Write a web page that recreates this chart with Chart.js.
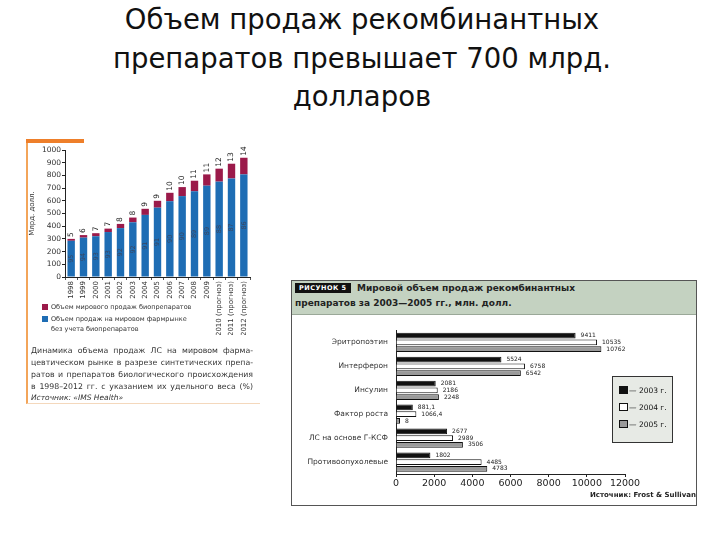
<!DOCTYPE html>
<html>
<head>
<meta charset="utf-8">
<script src="https://cdn.jsdelivr.net/npm/chart.js@4/dist/chart.umd.min.js"></script>
<style>
  body { margin: 0; width: 720px; height: 540px; background: #fff; position: relative; overflow: hidden; font-family: "DejaVu Sans", sans-serif; }
  .abs { position: absolute; }
  #title { left: 0; top: 0; width: 724px; text-align: center; font-size: 27.5px; line-height: 38.5px; color: #111; }
  #leftPanel { left: 26px; top: 139px; width: 232px; height: 264px; border-left: 2px solid #f3a55a; border-bottom: 1px solid #f4d8bc; }
  #orangeBar { left: 26px; top: 139px; width: 58px; height: 4px; background: #ee7f2a; }
  .leg { font-size: 6.5px; color: #333; line-height: 10px; }
  .sw { display: inline-block; width: 6px; height: 6px; margin-right: 3px; vertical-align: -1px; }
  .cap { left: 31px; width: 222px; font-size: 7.8px; color: #333; text-align: justify; text-align-last: justify; line-height: 12px; white-space: nowrap; }
  #rightPanel { left: 291px; top: 280px; width: 404px; height: 224px; border: 1px solid #555; }
  #rightHead { left: 292px; top: 281px; width: 404px; height: 33px; background: #c4d2c1; border-bottom: 1px solid #9aa898; }
  #fig { left: 295px; top: 283px; background: #111; color: #fff; font-size: 6.5px; font-weight: bold; padding: 1px 4px; letter-spacing: 0.5px; }
  .head { font-size: 9px; font-weight: bold; color: #222; }
  #legendR { left: 612px; top: 376px; width: 59px; height: 65px; background: #e7eae5; border: 1px solid #333; font-size: 7.5px; color: #111; }
  #legendR div { position: absolute; left: 6px; }
  #legendR span.box { display: inline-block; width: 7px; height: 6px; border: 1px solid #111; vertical-align: -1px; margin-right: 1px; }
</style>
</head>
<body>
<div id="title" class="abs">Объем продаж рекомбинантных<br>препаратов превышает 700 млрд.<br>долларов</div>

<div id="leftPanel" class="abs"></div>
<div id="orangeBar" class="abs"></div>
<canvas id="salesChart" class="abs" style="left:28px;top:140px" width="226" height="195"></canvas>
<div class="abs leg" style="left:42px;top:302px"><span class="sw" style="background:#9b1a4a"></span>Объем мирового продаж биопрепаратов</div>
<div class="abs leg" style="left:42px;top:314px"><span class="sw" style="background:#1e6db4"></span>Объем продаж на мировом фармрынке<br><span style="padding-left:9px">без учета биопрепаратов</span></div>
<div class="abs cap" style="top:345px">Динамика объема продаж ЛС на мировом фарма-</div>
<div class="abs cap" style="top:357px">цевтическом рынке в разрезе синтетических препа-</div>
<div class="abs cap" style="top:369px">ратов и препаратов биологического происхождения</div>
<div class="abs cap" style="top:381px">в 1998–2012 гг. с указанием их удельного веса (%)</div>
<div class="abs" style="left:31px;top:393px;font-size:7.5px;font-style:italic;color:#333">Источник: «IMS Health»</div>

<div id="rightPanel" class="abs"></div>
<div id="rightHead" class="abs"></div>
<div id="fig" class="abs">РИСУНОК 5</div>
<div class="abs head" style="left:357px;top:283px">Мировой объем продаж рекомбинантных</div>
<div class="abs head" style="left:295px;top:298px">препаратов за 2003—2005 гг., млн. долл.</div>
<canvas id="recombChart" class="abs" style="left:293px;top:318px" width="400" height="172"></canvas>
<div id="legendR" class="abs">
  <div style="top:9px"><span class="box" style="background:#111"></span>— 2003 г.</div>
  <div style="top:26px"><span class="box" style="background:#fff"></span>— 2004 г.</div>
  <div style="top:43px"><span class="box" style="background:#9a9a9a"></span>— 2005 г.</div>
</div>
<div class="abs" style="left:590px;top:491px;font-size:7px;font-weight:bold;color:#222">Источник: Frost &amp; Sullivan</div>

<script>
// left chart: world pharma sales, bn USD
const years = ['1998', '1999', '2000', '2001', '2002', '2003', '2004', '2005', '2006', '2007', '2008', '2009', '2010 (прогноз)', '2011 (прогноз)', '2012 (прогноз)'];
const synthSales = [285, 310, 321, 354, 385, 431, 489, 546, 597, 637, 675, 719, 751, 776, 808];
const bioSales = [15, 20, 24, 27, 33, 37, 48, 54, 66, 71, 83, 89, 102, 116, 131];
const synthShare = [95, 94, 93, 93, 92, 92, 91, 91, 90, 90, 89, 89, 88, 87, 86];
const bioShare = [5, 6, 7, 7, 8, 8, 9, 9, 10, 10, 11, 11, 12, 13, 14];
const salesTicks = [0, 100, 200, 300, 400, 500, 600, 700, 800, 900, 1000];

// right chart: recombinant drugs, mln USD
const drugs = ['Эритропоэтин', 'Интерферон', 'Инсулин', 'Фактор роста', 'ЛС на основе Г-КСФ', 'Противоопухолевые'];
const sales2003 = [9411, 5524, 2081, 881.1, 2677, 1802];
const sales2004 = [10535, 6758, 2186, 1066.4, 2989, 4485];
const sales2005 = [10762, 6542, 2248, 8, 3506, 4783];

const font = 'DejaVu Sans';

const shareLabels = {
  id: 'shareLabels',
  afterDatasetsDraw(chart) {
    const ctx = chart.ctx;
    const synMeta = chart.getDatasetMeta(0);
    const bioMeta = chart.getDatasetMeta(1);
    ctx.save();
    ctx.textBaseline = 'middle';
    synMeta.data.forEach((bar, i) => {
      ctx.save();
      ctx.font = '6.5px "' + font + '"';
      ctx.fillStyle = '#3a4660';
      ctx.translate(bar.x, (bar.y + bar.base) / 2);
      ctx.rotate(-Math.PI / 2);
      ctx.textAlign = 'center';
      ctx.fillText(synthShare[i], 0, 0);
      ctx.restore();

      const top = bioMeta.data[i];
      ctx.save();
      ctx.font = '7.5px "' + font + '"';
      ctx.fillStyle = '#222';
      ctx.translate(top.x, top.y - 2);
      ctx.rotate(-Math.PI / 2);
      ctx.textAlign = 'left';
      ctx.fillText(bioShare[i], 0, 0);
      ctx.restore();
    });
    ctx.restore();
  }
};

new Chart(document.getElementById('salesChart'), {
  type: 'bar',
  data: {
    labels: years,
    datasets: [
      { label: 'Объем продаж на мировом фармрынке без учета биопрепаратов', data: synthSales, backgroundColor: '#1e6db4' },
      { label: 'Объем мирового продаж биопрепаратов', data: bioSales, backgroundColor: '#9b1a4a' }
    ]
  },
  options: {
    responsive: false,
    animation: false,
    layout: { padding: { top: 10, right: 4 } },
    datasets: { bar: { barPercentage: 0.6, categoryPercentage: 1 } },
    plugins: { legend: { display: false }, tooltip: { enabled: false } },
    scales: {
      x: {
        stacked: true,
        grid: { drawOnChartArea: false, tickLength: 3, color: '#555' },
        border: { color: '#222' },
        ticks: { font: { family: font, size: 7 }, color: '#333', maxRotation: 90, minRotation: 90, autoSkip: false, padding: 1 },
        afterFit(scale) { scale.height = 58; }
      },
      y: {
        stacked: true,
        min: 0,
        max: 1000,
        afterBuildTicks(scale) { scale.ticks = salesTicks.map(v => ({ value: v })); },
        grid: { drawOnChartArea: false, tickLength: 3, color: '#222' },
        border: { color: '#222' },
        ticks: { font: { family: font, size: 7.5 }, color: '#333', padding: 1, callback: v => String(v) },
        title: { display: true, text: 'Млрд. долл.', font: { family: font, size: 7 }, color: '#333', padding: 0 },
        afterFit(scale) { scale.width = 37; }
      }
    }
  },
  plugins: [shareLabels]
});

const valueLabels = {
  id: 'valueLabels',
  afterDatasetsDraw(chart) {
    const ctx = chart.ctx;
    ctx.save();
    ctx.font = '6px "' + font + '"';
    ctx.fillStyle = '#222';
    ctx.textBaseline = 'middle';
    ctx.textAlign = 'left';
    chart.data.datasets.forEach((ds, d) => {
      chart.getDatasetMeta(d).data.forEach((bar, i) => {
        ctx.fillText(String(ds.data[i]).replace('.', ','), bar.x + 5, bar.y);
      });
    });
    ctx.restore();
  }
};

new Chart(document.getElementById('recombChart'), {
  type: 'bar',
  data: {
    labels: drugs,
    datasets: [
      { label: '2003 г.', data: sales2003, backgroundColor: '#111', borderColor: '#111', borderWidth: 1 },
      { label: '2004 г.', data: sales2004, backgroundColor: '#fff', borderColor: '#111', borderWidth: 1 },
      { label: '2005 г.', data: sales2005, backgroundColor: '#9a9a9a', borderColor: '#111', borderWidth: 1, minBarLength: 4 }
    ]
  },
  options: {
    indexAxis: 'y',
    responsive: false,
    animation: false,
    layout: { padding: { top: 4, right: 68 } },
    datasets: { bar: { barPercentage: 0.85, categoryPercentage: 0.85 } },
    plugins: { legend: { display: false }, tooltip: { enabled: false } },
    scales: {
      x: {
        min: 0,
        max: 12000,
        ticks: { stepSize: 2000, font: { family: font, size: 9.5 }, color: '#222', padding: 1, callback: v => String(v) },
        grid: { drawOnChartArea: false, tickLength: 3, color: '#222' },
        border: { color: '#222' },
        afterFit(scale) { scale.height = 16; }
      },
      y: {
        grid: { drawOnChartArea: false, tickLength: 0 },
        border: { color: '#222' },
        ticks: { font: { family: font, size: 7.5 }, color: '#333', padding: 8 },
        afterFit(scale) { scale.width = 103; }
      }
    }
  },
  plugins: [valueLabels]
});
</script>
</body>
</html>
